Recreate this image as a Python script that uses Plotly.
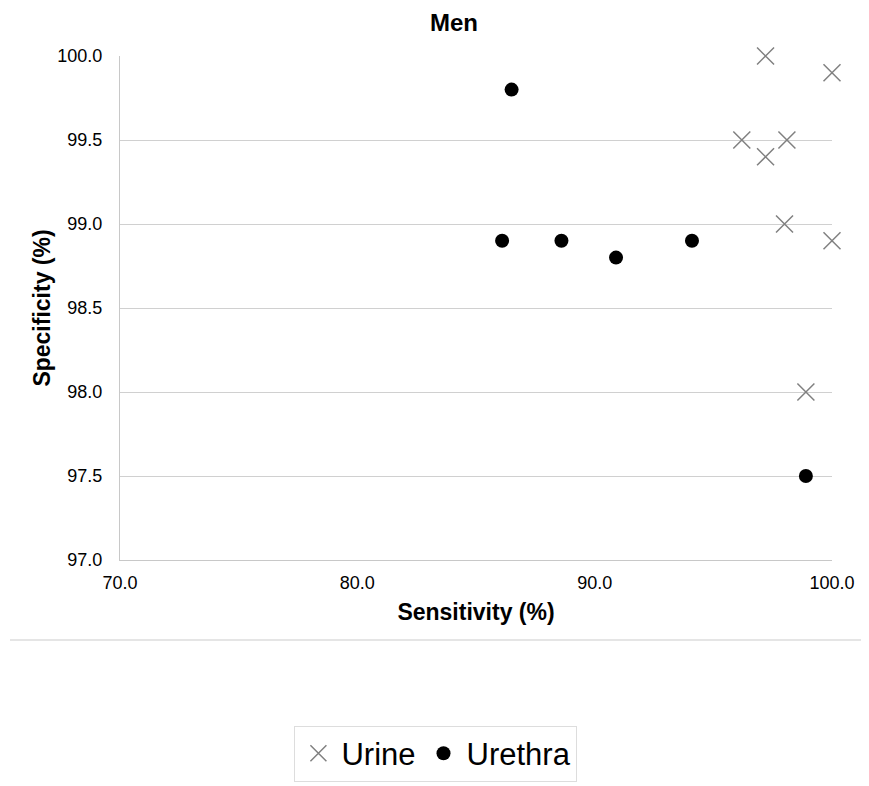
import plotly.graph_objects as go

urine_sens = [97.2, 100.0, 96.2, 97.2, 98.1, 98.0, 100.0, 98.9]
urine_spec = [100.0, 99.9, 99.5, 99.4, 99.5, 99.0, 98.9, 98.0]
urethra_sens = [86.5, 86.1, 88.6, 90.9, 94.1, 98.9]
urethra_spec = [99.8, 98.9, 98.9, 98.8, 98.9, 97.5]

x_ticks = [70.0, 80.0, 90.0, 100.0]
y_ticks = [97.0, 97.5, 98.0, 98.5, 99.0, 99.5, 100.0]

FONT = "Liberation Sans, Arial, sans-serif"

fig = go.Figure()
fig.add_trace(go.Scatter(
    x=urine_sens, y=urine_spec, mode="markers", name="Urine",
    marker=dict(symbol="x-thin-open", size=17, color="#808080",
                line=dict(color="#808080", width=1.5)),
    cliponaxis=False,
))
fig.add_trace(go.Scatter(
    x=urethra_sens, y=urethra_spec, mode="markers", name="Urethra",
    marker=dict(symbol="circle", size=14, color="#000000"),
    cliponaxis=False,
))

fig.update_layout(
    width=861, height=778,
    paper_bgcolor="white", plot_bgcolor="white",
    margin=dict(l=112, r=37, t=48, b=226, autoexpand=False),
    font=dict(family=FONT, color="#000000"),
    title=dict(text="<b>Men</b>", x=0.518, xanchor="center", y=0.981, yanchor="middle",
               pad=dict(t=0, b=0, l=0, r=0),
               font=dict(size=24, family=FONT)),
    xaxis=dict(range=[70, 100], tickvals=x_ticks, ticktext=[f"{v:.1f}" for v in x_ticks],
               showgrid=False, zeroline=False, showline=True, linecolor="#c8c8c8", linewidth=1.2,
               ticks="", ticklabelstandoff=6, tickfont=dict(size=18),
               title=dict(text="<b>Sensitivity (%)</b>", font=dict(size=23), standoff=12)),
    yaxis=dict(range=[97, 100], tickvals=y_ticks, ticktext=[f"{v:.1f}" for v in y_ticks],
               showgrid=True, gridcolor="#d0d0d0", gridwidth=1.2, zeroline=False,
               showline=True, linecolor="#c8c8c8", linewidth=1.2,
               ticks="", ticklabelstandoff=13, tickfont=dict(size=18),
               title=dict(text="<b>Specificity (%)</b>", font=dict(size=23), standoff=0)),
    showlegend=True,
    legend=dict(orientation="h", xref="container", yref="container",
                x=0.497, xanchor="center", y=0.0776, yanchor="top",
                font=dict(size=31, family=FONT), bordercolor="#dddddd", borderwidth=1,
                itemsizing="trace", tracegroupgap=0, itemwidth=36),
    shapes=[dict(type="line", xref="paper", yref="paper", x0=-0.1545, x1=1.074,
                 y0=-0.1587, y1=-0.1587, line=dict(color="#dddddd", width=1.5))],
)

fig.write_html("out.html")
